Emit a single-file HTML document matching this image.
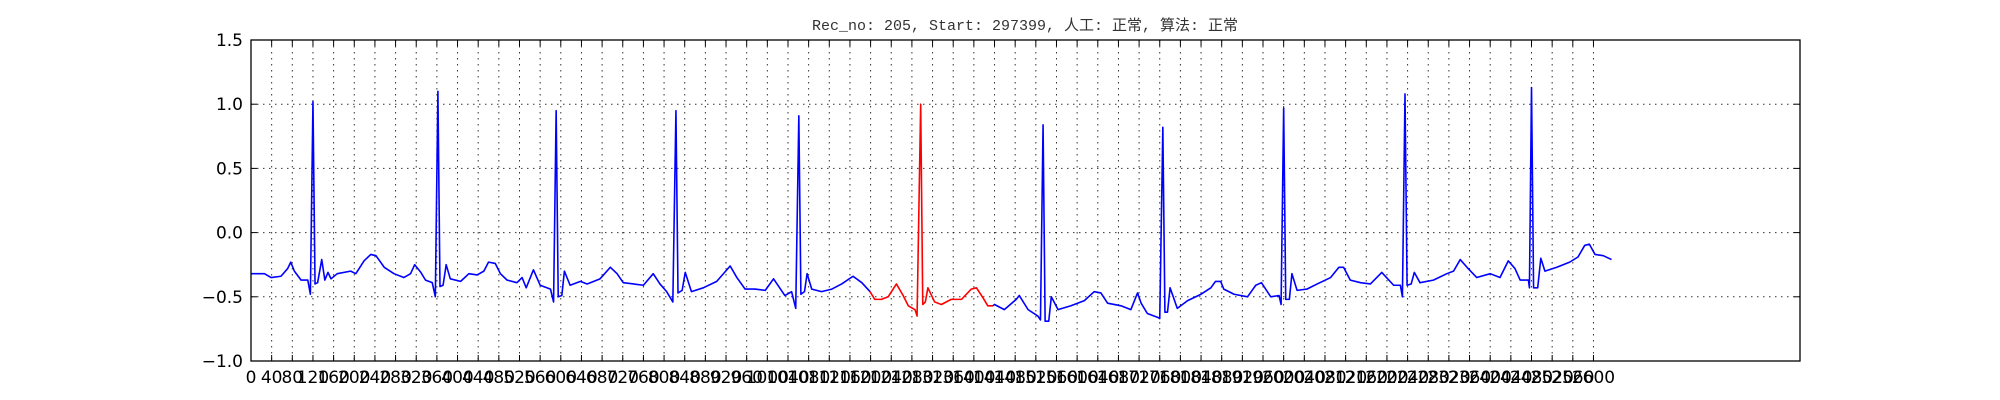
<!DOCTYPE html>
<html><head><meta charset="utf-8"><style>
html,body{margin:0;padding:0;background:#fff;}
svg{display:block;}
</style></head><body>
<svg id="chart" width="2000" height="400" xmlns="http://www.w3.org/2000/svg">
<rect x="0" y="0" width="2000" height="400" fill="#fff"/>
<text x="1025" y="30" text-anchor="middle" font-family="'Liberation Mono','Noto Sans CJK SC',monospace" font-size="15" fill="#333">Rec_no: 205, Start: 297399, 人工: 正常, 算法: 正常</text>
<g id="grid"></g>
<g id="series"></g>
<rect x="251" y="40" width="1549" height="321" fill="none" stroke="#000" stroke-width="1.3"/>
<g id="ticks"></g>
</svg>
<script>
const sampleIdx = [0,26,39,58,71,77,84,97,110,115,120,124,129,137,143,149,155,167,193,203,219,232,242,258,277,296,309,317,329,338,351,357,362,366,372,378,386,406,422,438,451,460,473,483,496,515,525,533,547,560,580,586,591,595,602,607,618,638,651,676,696,709,721,741,760,779,792,805,817,823,827,835,841,853,876,902,928,941,957,976,996,1012,1034,1047,1055,1061,1065,1072,1077,1086,1105,1125,1144,1166,1183,1199,1208,1221,1234,1250,1263,1273,1286,1290,1297,1301,1306,1311,1324,1337,1356,1376,1395,1405,1418,1427,1437,1440,1459,1482,1488,1505,1524,1529,1534,1538,1545,1550,1563,1588,1614,1633,1646,1659,1685,1704,1717,1724,1736,1756,1760,1766,1770,1775,1780,1794,1814,1840,1859,1868,1878,1884,1904,1930,1946,1957,1975,1991,1995,2000,2004,2011,2016,2026,2045,2065,2091,2107,2116,2129,2149,2168,2190,2213,2226,2230,2235,2239,2247,2253,2264,2290,2316,2329,2342,2355,2374,2400,2419,2435,2448,2458,2474,2476,2480,2484,2492,2498,2506,2529,2554,2570,2583,2592,2603,2619,2635];
const ecgValues = [-0.32,-0.32,-0.35,-0.34,-0.28,-0.23,-0.30,-0.37,-0.37,-0.48,1.02,-0.40,-0.39,-0.21,-0.37,-0.31,-0.36,-0.32,-0.30,-0.32,-0.22,-0.17,-0.18,-0.27,-0.32,-0.35,-0.32,-0.25,-0.31,-0.37,-0.39,-0.50,1.10,-0.42,-0.41,-0.25,-0.36,-0.38,-0.32,-0.33,-0.30,-0.23,-0.24,-0.32,-0.37,-0.39,-0.35,-0.43,-0.29,-0.41,-0.44,-0.54,0.95,-0.50,-0.49,-0.30,-0.41,-0.38,-0.40,-0.36,-0.27,-0.32,-0.39,-0.40,-0.41,-0.32,-0.40,-0.46,-0.54,0.95,-0.47,-0.45,-0.31,-0.46,-0.43,-0.38,-0.26,-0.35,-0.44,-0.44,-0.45,-0.36,-0.49,-0.46,-0.59,0.91,-0.48,-0.46,-0.32,-0.44,-0.46,-0.44,-0.40,-0.34,-0.39,-0.46,-0.52,-0.52,-0.50,-0.40,-0.49,-0.57,-0.60,-0.65,1.00,-0.56,-0.54,-0.43,-0.54,-0.56,-0.52,-0.52,-0.44,-0.43,-0.51,-0.57,-0.57,-0.56,-0.60,-0.52,-0.49,-0.60,-0.65,-0.68,0.84,-0.69,-0.69,-0.50,-0.60,-0.57,-0.53,-0.46,-0.47,-0.55,-0.57,-0.60,-0.47,-0.55,-0.63,-0.66,-0.67,0.82,-0.62,-0.62,-0.43,-0.59,-0.53,-0.48,-0.43,-0.38,-0.38,-0.44,-0.48,-0.50,-0.41,-0.39,-0.50,-0.49,-0.56,0.97,-0.52,-0.52,-0.32,-0.45,-0.44,-0.40,-0.35,-0.27,-0.27,-0.37,-0.39,-0.40,-0.31,-0.41,-0.41,-0.50,1.08,-0.41,-0.40,-0.31,-0.39,-0.37,-0.32,-0.30,-0.21,-0.27,-0.35,-0.32,-0.35,-0.22,-0.28,-0.37,-0.37,-0.43,1.13,-0.43,-0.43,-0.20,-0.30,-0.27,-0.23,-0.19,-0.10,-0.09,-0.17,-0.18,-0.21];
const redRange = [1199, 1437];
const xTicks = []; for (let t = 0; t <= 2600; t += 40) xTicks.push(t);
const yTicks = [-1.0, -0.5, 0.0, 0.5, 1.0, 1.5];
const yTickLabels = ["\u22121.0","\u22120.5","0.0","0.5","1.0","1.5"];

const NS = "http://www.w3.org/2000/svg";
const L = 251, R = 1800, T = 40, B = 361;
const xMin = 0, xMax = 3000, yMin = -1.0, yMax = 1.5;
const xs = v => L + (v - xMin) / (xMax - xMin) * (R - L);
const ys = v => B - (v - yMin) / (yMax - yMin) * (B - T);
function mk(tag, attrs, parent) { const e = document.createElementNS(NS, tag); for (const k in attrs) e.setAttribute(k, attrs[k]); parent.appendChild(e); return e; }
const grid = document.getElementById('grid'), ticks = document.getElementById('ticks'), series = document.getElementById('series');

xTicks.forEach((t, i) => {
  const x = xs(t);
  if (t > 0) {
    const g = mk('line', {x1:x, x2:x, y1:T, y2:B, stroke:'#000', 'stroke-width':1, 'stroke-dasharray':'1.5,4.5', opacity:0.8}, grid);
    
    
  }
  const tb = mk('line', {x1:x, x2:x, y1:B, y2:B-6, stroke:'#000', 'stroke-width':1}, ticks);
  
  
  const tt = mk('line', {x1:x, x2:x, y1:T, y2:T+6, stroke:'#000', 'stroke-width':1}, ticks);
  
  
  const lb = mk('text', {x:x, y:B+22, 'text-anchor':'middle', 'font-family':"'DejaVu Sans',sans-serif", 'font-size':17, fill:'#000'}, ticks);
  lb.textContent = String(t);
  
  
});
yTicks.forEach((v, i) => {
  const y = ys(v);
  if (v > yMin && v < yMax) {
    const g = mk('line', {x1:L, x2:R, y1:y, y2:y, stroke:'#000', 'stroke-width':1, 'stroke-dasharray':'1.5,4.5', opacity:0.8}, grid);
    
    
  }
  const tl = mk('line', {x1:L, x2:L+6, y1:y, y2:y, stroke:'#000', 'stroke-width':1}, ticks);
  
  
  const tr = mk('line', {x1:R, x2:R-6, y1:y, y2:y, stroke:'#000', 'stroke-width':1}, ticks);
  
  
  const lb = mk('text', {x:L-8, y:y+6, 'text-anchor':'end', 'font-family':"'DejaVu Sans',sans-serif", 'font-size':17, fill:'#000'}, ticks);
  lb.textContent = yTickLabels[i];
  
  
});

function pathFor(filter) {
  let d = '';
  for (let i = 0; i < sampleIdx.length; i++) {
    if (!filter(sampleIdx[i])) continue;
    d += (d ? 'L' : 'M') + xs(sampleIdx[i]).toFixed(2) + ',' + ys(ecgValues[i]).toFixed(2);
  }
  return d;
}
const blue1 = mk('path', {d: pathFor(s => s <= redRange[0]), fill:'none', stroke:'#0000ff', 'stroke-width':1.6, 'stroke-linejoin':'round'}, series);


const red = mk('path', {d: pathFor(s => s >= redRange[0] && s <= redRange[1]), fill:'none', stroke:'#ff0000', 'stroke-width':1.6, 'stroke-linejoin':'round'}, series);


const blue2 = mk('path', {d: pathFor(s => s >= redRange[1]), fill:'none', stroke:'#0000ff', 'stroke-width':1.6, 'stroke-linejoin':'round'}, series);


</script>
</body></html>
